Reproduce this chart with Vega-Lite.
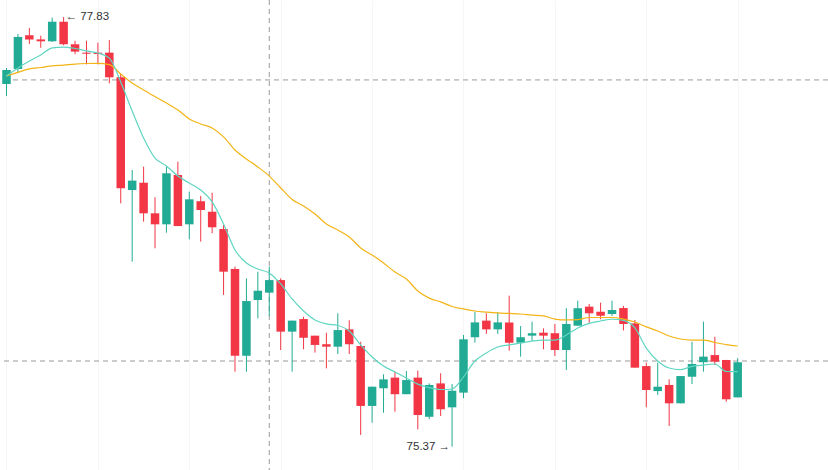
{
  "$schema": "https://vega.github.io/schema/vega-lite/v6.json",
  "width": 828,
  "height": 470,
  "padding": 0,
  "autosize": {"type": "none"},
  "background": "#ffffff",
  "config": {"view": {"stroke": null}},
  "datasets": {
    "candles": [
      {"i":1,"o":77.447,"h":77.538,"l":77.378,"c":77.527,"fast":77.493,"slow":77.493},
      {"i":2,"o":77.533,"h":77.733,"l":77.515,"c":77.716,"fast":77.538,"slow":77.513},
      {"i":3,"o":77.725,"h":77.767,"l":77.676,"c":77.702,"fast":77.578,"slow":77.533},
      {"i":4,"o":77.702,"h":77.723,"l":77.654,"c":77.691,"fast":77.613,"slow":77.541},
      {"i":5,"o":77.691,"h":77.827,"l":77.687,"c":77.803,"fast":77.653,"slow":77.550},
      {"i":6,"o":77.803,"h":77.830,"l":77.668,"c":77.674,"fast":77.658,"slow":77.555},
      {"i":7,"o":77.674,"h":77.694,"l":77.617,"c":77.632,"fast":77.650,"slow":77.561},
      {"i":8,"o":77.626,"h":77.694,"l":77.559,"c":77.620,"fast":77.636,"slow":77.564},
      {"i":9,"o":77.626,"h":77.683,"l":77.559,"c":77.618,"fast":77.624,"slow":77.565},
      {"i":10,"o":77.626,"h":77.698,"l":77.451,"c":77.485,"fast":77.595,"slow":77.558},
      {"i":11,"o":77.485,"h":77.504,"l":76.764,"c":76.850,"fast":77.458,"slow":77.504},
      {"i":12,"o":76.840,"h":76.955,"l":76.430,"c":76.894,"fast":77.292,"slow":77.452},
      {"i":13,"o":76.882,"h":76.974,"l":76.659,"c":76.707,"fast":77.138,"slow":77.412},
      {"i":14,"o":76.707,"h":76.799,"l":76.507,"c":76.644,"fast":77.023,"slow":77.375},
      {"i":15,"o":76.644,"h":76.974,"l":76.596,"c":76.936,"fast":76.978,"slow":77.338},
      {"i":16,"o":76.926,"h":77.002,"l":76.634,"c":76.634,"fast":76.920,"slow":77.298},
      {"i":17,"o":76.644,"h":76.831,"l":76.558,"c":76.787,"fast":76.880,"slow":77.247},
      {"i":18,"o":76.776,"h":76.806,"l":76.545,"c":76.726,"fast":76.840,"slow":77.218},
      {"i":19,"o":76.716,"h":76.825,"l":76.593,"c":76.627,"fast":76.772,"slow":77.195},
      {"i":20,"o":76.617,"h":76.640,"l":76.240,"c":76.373,"fast":76.646,"slow":77.144},
      {"i":21,"o":76.388,"h":76.402,"l":75.801,"c":75.892,"fast":76.497,"slow":77.069},
      {"i":22,"o":75.892,"h":76.335,"l":75.801,"c":76.205,"fast":76.423,"slow":77.018},
      {"i":23,"o":76.211,"h":76.373,"l":76.106,"c":76.264,"fast":76.388,"slow":76.972},
      {"i":24,"o":76.253,"h":76.402,"l":76.120,"c":76.325,"fast":76.366,"slow":76.920},
      {"i":25,"o":76.325,"h":76.335,"l":75.925,"c":76.030,"fast":76.303,"slow":76.852},
      {"i":26,"o":76.030,"h":76.093,"l":75.801,"c":76.093,"fast":76.217,"slow":76.786},
      {"i":27,"o":76.102,"h":76.115,"l":75.929,"c":75.995,"fast":76.148,"slow":76.749},
      {"i":28,"o":76.007,"h":76.007,"l":75.910,"c":75.954,"fast":76.097,"slow":76.703},
      {"i":29,"o":75.958,"h":76.024,"l":75.820,"c":75.944,"fast":76.074,"slow":76.646},
      {"i":30,"o":75.944,"h":76.135,"l":75.902,"c":76.039,"fast":76.065,"slow":76.611},
      {"i":31,"o":76.043,"h":76.095,"l":75.902,"c":75.958,"fast":76.034,"slow":76.571},
      {"i":32,"o":75.948,"h":75.972,"l":75.439,"c":75.605,"fast":75.954,"slow":76.509},
      {"i":33,"o":75.605,"h":75.715,"l":75.509,"c":75.715,"fast":75.885,"slow":76.468},
      {"i":34,"o":75.706,"h":75.786,"l":75.566,"c":75.757,"fast":75.833,"slow":76.423},
      {"i":35,"o":75.767,"h":75.801,"l":75.572,"c":75.672,"fast":75.799,"slow":76.371},
      {"i":36,"o":75.672,"h":75.805,"l":75.672,"c":75.753,"fast":75.765,"slow":76.331},
      {"i":37,"o":75.767,"h":75.807,"l":75.471,"c":75.553,"fast":75.730,"slow":76.263},
      {"i":38,"o":75.543,"h":75.734,"l":75.529,"c":75.725,"fast":75.710,"slow":76.222},
      {"i":39,"o":75.734,"h":75.792,"l":75.547,"c":75.586,"fast":75.699,"slow":76.200},
      {"i":40,"o":75.597,"h":75.730,"l":75.372,"c":75.692,"fast":75.702,"slow":76.174},
      {"i":41,"o":75.681,"h":76.011,"l":75.649,"c":75.986,"fast":75.771,"slow":76.160},
      {"i":42,"o":75.998,"h":76.144,"l":75.967,"c":76.083,"fast":75.862,"slow":76.148},
      {"i":43,"o":76.093,"h":76.135,"l":76.017,"c":76.043,"fast":75.908,"slow":76.142},
      {"i":44,"o":76.043,"h":76.141,"l":76.017,"c":76.083,"fast":75.942,"slow":76.137},
      {"i":45,"o":76.083,"h":76.236,"l":75.921,"c":75.967,"fast":75.954,"slow":76.134},
      {"i":46,"o":75.967,"h":76.062,"l":75.887,"c":75.998,"fast":75.965,"slow":76.131},
      {"i":47,"o":76.007,"h":76.087,"l":75.978,"c":76.021,"fast":75.976,"slow":76.125},
      {"i":48,"o":76.024,"h":76.049,"l":75.929,"c":76.007,"fast":75.982,"slow":76.120},
      {"i":49,"o":76.021,"h":76.074,"l":75.891,"c":75.925,"fast":75.982,"slow":76.102},
      {"i":50,"o":75.925,"h":76.164,"l":75.811,"c":76.074,"fast":76.011,"slow":76.097},
      {"i":51,"o":76.064,"h":76.207,"l":76.064,"c":76.164,"fast":76.051,"slow":76.099},
      {"i":52,"o":76.173,"h":76.188,"l":76.081,"c":76.135,"fast":76.077,"slow":76.111},
      {"i":53,"o":76.144,"h":76.196,"l":76.101,"c":76.121,"fast":76.091,"slow":76.111},
      {"i":54,"o":76.131,"h":76.207,"l":76.120,"c":76.154,"fast":76.101,"slow":76.111},
      {"i":55,"o":76.165,"h":76.177,"l":76.037,"c":76.074,"fast":76.094,"slow":76.102},
      {"i":56,"o":76.077,"h":76.097,"l":75.824,"c":75.824,"fast":76.051,"slow":76.085},
      {"i":57,"o":75.833,"h":75.852,"l":75.597,"c":75.696,"fast":75.936,"slow":76.057},
      {"i":58,"o":75.690,"h":75.852,"l":75.668,"c":75.715,"fast":75.862,"slow":76.034},
      {"i":59,"o":75.725,"h":75.757,"l":75.490,"c":75.620,"fast":75.822,"slow":76.005},
      {"i":60,"o":75.620,"h":75.776,"l":75.620,"c":75.776,"fast":75.813,"slow":75.988},
      {"i":61,"o":75.772,"h":75.972,"l":75.730,"c":75.845,"fast":75.831,"slow":75.982},
      {"i":62,"o":75.855,"h":76.087,"l":75.801,"c":75.887,"fast":75.839,"slow":75.982},
      {"i":63,"o":75.896,"h":76.001,"l":75.839,"c":75.858,"fast":75.845,"slow":75.968},
      {"i":64,"o":75.868,"h":75.868,"l":75.629,"c":75.643,"fast":75.802,"slow":75.956},
      {"i":65,"o":75.654,"h":75.878,"l":75.654,"c":75.855,"fast":75.801,"slow":75.948}
    ],
    "hlines": [{"p": 77.470}, {"p": 75.862}],
    "vlines": [{"i": 24}],
    "hiLabel": [{"i": 6, "p": 77.83, "t": "← 77.83"}],
    "loLabel": [{"i": 40, "p": 75.372, "t": "75.37 →"}]
  },
  "encoding": {
    "x": {
      "field": "i",
      "type": "quantitative",
      "scale": {"domain": [0.4311, 72.904], "nice": false, "zero": false, "padding": 0},
      "axis": {
        "values": [1, 9, 17, 25, 33, 41, 49, 57, 65],
        "labels": false, "ticks": false, "domain": false, "title": null,
        "grid": true, "gridColor": "#f6f6f6", "gridWidth": 1
      }
    }
  },
  "layer": [
    {
      "data": {"name": "hlines"},
      "mark": {"type": "rule", "color": "#9a9a9a", "strokeWidth": 1, "strokeDash": [5, 4]},
      "encoding": {
        "x": null,
        "y": {"field": "p", "type": "quantitative", "scale": {"domain": [75.2385, 77.9273], "nice": false, "zero": false, "padding": 0}, "axis": null}
      }
    },
    {
      "data": {"name": "vlines"},
      "mark": {"type": "rule", "color": "#9a9a9a", "strokeWidth": 1, "strokeDash": [5, 4]},
      "encoding": {}
    },
    {
      "data": {"name": "candles"},
      "mark": {"type": "rule", "strokeWidth": 1},
      "encoding": {
        "y": {"field": "l", "type": "quantitative", "scale": {"domain": [75.2385, 77.9273], "nice": false, "zero": false, "padding": 0}, "axis": null},
        "y2": {"field": "h"},
        "color": {"condition": {"test": "datum.c >= datum.o", "value": "#22ab94"}, "value": "#f23645"}
      }
    },
    {
      "data": {"name": "candles"},
      "mark": {"type": "bar", "size": 8.5},
      "encoding": {
        "y": {"field": "o", "type": "quantitative"},
        "y2": {"field": "c"},
        "color": {"condition": {"test": "datum.c >= datum.o", "value": "#22ab94"}, "value": "#f23645"}
      }
    },
    {
      "data": {"name": "candles"},
      "mark": {"type": "line", "color": "#f3b416", "strokeWidth": 1.2, "interpolate": "monotone"},
      "encoding": {"y": {"field": "slow", "type": "quantitative"}}
    },
    {
      "data": {"name": "candles"},
      "mark": {"type": "line", "color": "#5fd6c2", "strokeWidth": 1.2, "interpolate": "monotone"},
      "encoding": {"y": {"field": "fast", "type": "quantitative"}}
    },
    {
      "data": {"name": "hiLabel"},
      "mark": {"type": "text", "align": "left", "baseline": "middle", "dx": 2, "fontSize": 11.5, "font": "Liberation Sans", "color": "#333333"},
      "encoding": {"y": {"field": "p", "type": "quantitative"}, "text": {"field": "t"}}
    },
    {
      "data": {"name": "loLabel"},
      "mark": {"type": "text", "align": "right", "baseline": "middle", "dx": -2, "fontSize": 11.5, "font": "Liberation Sans", "color": "#333333"},
      "encoding": {"y": {"field": "p", "type": "quantitative"}, "text": {"field": "t"}}
    }
  ],
  "resolve": {"scale": {"y": "shared", "x": "shared"}}
}
